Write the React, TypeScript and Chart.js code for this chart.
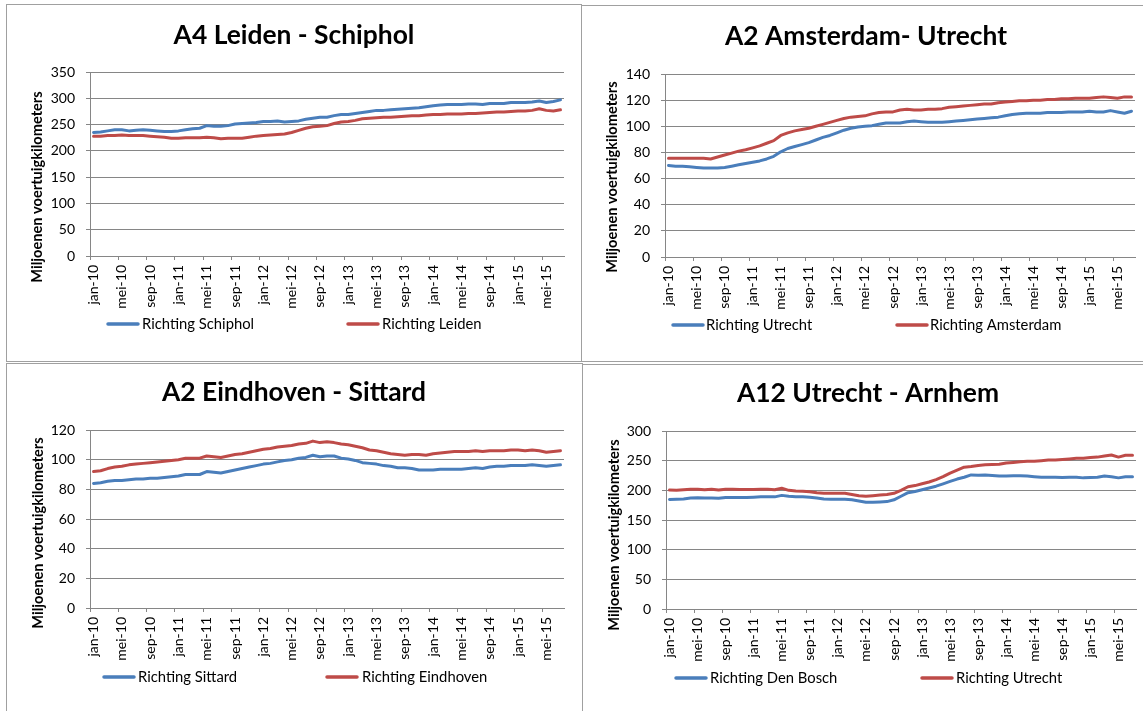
import React, { useEffect, useRef } from 'react';
import { Chart, registerables } from 'chart.js';
Chart.register(...registerables);

// ---------- data ----------
const monthNames = ['jan', 'feb', 'mrt', 'apr', 'mei', 'jun', 'jul', 'aug', 'sep', 'okt', 'nov', 'dec'];
const yearNames = ['10', '11', '12', '13', '14', '15'];
const lastMonthCount = 7; // data runs through jul-15
const categories: string[] = [];
yearNames.forEach((y, yi) => {
  monthNames.forEach((m, mi) => {
    if (yi < yearNames.length - 1 || mi < lastMonthCount) categories.push(`${m}-${y}`);
  });
});

const a4RichtingSchiphol = [
  235, 236, 238, 240, 240, 238, 239, 240, 239, 238, 237, 237,
  238, 240, 242, 243, 248, 247, 247, 248, 251, 252, 253, 254,
  256, 256, 257, 255, 256, 257, 260, 262, 264, 264, 267, 269,
  269, 271, 273, 275, 277, 277, 278, 279, 280, 281, 282, 284,
  286, 287, 288, 288, 288, 289, 289, 288, 290, 290, 290, 292,
  292, 292, 293, 295, 292, 294, 297,
];
const a4RichtingLeiden = [
  228, 228, 229, 229, 230, 229, 229, 229, 228, 227, 226, 224,
  224, 225, 225, 225, 226, 225, 223, 224, 224, 224, 226, 228,
  229, 230, 231, 232, 235, 239, 243, 246, 247, 248, 252, 255,
  256, 258, 261, 262, 263, 264, 264, 265, 266, 267, 267, 268,
  269, 269, 270, 270, 270, 271, 271, 272, 273, 274, 274, 275,
  276, 276, 277, 280, 277, 276, 278,
];
const a2RichtingUtrecht = [
  70, 69.5, 69.5, 69, 68.5, 68, 68, 68, 68.5, 69.5, 70.5, 71.5,
  72.5, 73.5, 75, 77, 80.5, 83, 84.5, 86, 87.5, 89.5, 91.5, 93,
  95, 97, 98.5, 99.5, 100, 100.5, 101.5, 102.5, 102.5, 102.5, 103.5, 104,
  103.5, 103, 103, 103, 103.5, 104, 104.5, 105, 105.5, 106, 106.5, 107,
  108, 109, 109.5, 110, 110, 110, 110.5, 110.5, 110.5, 111, 111, 111,
  111.5, 111, 111, 112, 111, 110, 111.5,
];
const a2RichtingAmsterdam = [
  75.5, 75.5, 75.5, 75.5, 75.5, 75.5, 75, 76.5, 78, 79.5, 81, 82,
  83.5, 85, 87, 89, 93, 95, 96.5, 97.5, 98.5, 100, 101.5, 103,
  104.5, 106, 107, 107.5, 108, 109.5, 110.5, 111, 111, 112.5, 113, 112.5,
  112.5, 113, 113, 113.5, 114.5, 115, 115.5, 116, 116.5, 117, 117, 118,
  118.5, 119, 119.5, 119.5, 120, 120, 120.5, 120.5, 121, 121, 121.5, 121.5,
  121.5, 122, 122.5, 122, 121.5, 122.5, 122.5,
];
const a2RichtingSittard = [
  84, 84.5, 85.5, 86, 86, 86.5, 87, 87, 87.5, 87.5, 88, 88.5,
  89, 90, 90, 90, 92, 91.5, 91, 92, 93, 94, 95, 96,
  97, 97.5, 98.5, 99.5, 100, 101, 101.5, 103, 102, 102.5, 102.5, 101,
  100.5, 99.5, 98, 97.5, 97, 96, 95.5, 94.5, 94.5, 94, 93, 93,
  93, 93.5, 93.5, 93.5, 93.5, 94, 94.5, 94, 95, 95.5, 95.5, 96,
  96, 96, 96.5, 96, 95.5, 96, 96.5,
];
const a2RichtingEindhoven = [
  92, 92.5, 94, 95, 95.5, 96.5, 97, 97.5, 98, 98.5, 99, 99.5,
  100, 101, 101, 101, 102.5, 102, 101.5, 102.5, 103.5, 104, 105, 106,
  107, 107.5, 108.5, 109, 109.5, 110.5, 111, 112.5, 111.5, 112, 111.5, 110.5,
  110, 109, 108, 106.5, 106, 105, 104, 103.5, 103, 103.5, 103.5, 103,
  104, 104.5, 105, 105.5, 105.5, 105.5, 106, 105.5, 106, 106, 106, 106.5,
  106.5, 106, 106.5, 106, 105, 105.5, 106,
];
const a12RichtingDenBosch = [
  184.5, 185, 185.5, 187, 187.5, 187, 187, 186.5, 188, 188, 188, 188,
  188.5, 189, 189, 189, 191.5, 190, 189, 189, 188.5, 187, 185.5, 185,
  185, 185, 184, 182, 180, 180, 180.5, 181, 184, 190, 196, 198,
  201, 204, 207, 211, 215, 219, 222, 226, 225.5, 226, 225, 224,
  224, 224.5, 224.5, 224, 223, 222, 222, 222, 221.5, 222, 222, 221,
  221.5, 222, 224, 223, 221, 223, 223,
];
const a12RichtingUtrecht = [
  200.5, 200, 201, 202, 202, 201, 202, 200.5, 202, 202, 201.5, 201.5,
  201.5, 202, 202, 201, 203.5, 200, 199, 198.5, 197.5, 196, 195, 195,
  195, 195, 193, 191, 190, 191, 192, 193, 195, 200, 206, 208,
  211, 214, 218, 223, 229, 234, 239, 240, 242, 243, 243.5, 244,
  246, 247, 248, 249, 249, 250, 251, 251, 252, 253, 254, 254,
  255.5, 256, 258, 259.5, 256, 259, 259,
];

const yAxisTitle = 'Miljoenen voertuigkilometers';

// ---------- style ----------
const BLUE = '#4A7EBB';
const RED = '#BE4B48';
const GRID = '#868686';
const FONT = 'Lato, "Open Sans", sans-serif';

type Panel = {
  title: string;
  s1: { label: string; data: number[] };
  s2: { label: string; data: number[] };
  max: number;
  step: number;
  canvas: { x: number; y: number; w: number; h: number };
  plot: { l: number; r: number; t: number; b: number };
  titlePos: { x: number; y: number };
  yTitlePos: { x: number; y: number };
  legend: { y: number; items: { line: number; text: number }[] };
};

const panels: Panel[] = [
  {
    title: 'A4 Leiden - Schiphol',
    s1: { label: 'Richting Schiphol', data: a4RichtingSchiphol },
    s2: { label: 'Richting Leiden', data: a4RichtingLeiden },
    max: 350, step: 50,
    canvas: { x: 7, y: 5, w: 574, h: 355 },
    plot: { l: 90, r: 564, t: 72, b: 256 },
    titlePos: { x: 294, y: 44 },
    yTitlePos: { x: 37.5, y: 187 },
    legend: { y: 324, items: [{ line: 107, text: 142 }, { line: 347, text: 382 }] },
  },
  {
    title: 'A2 Amsterdam- Utrecht',
    s1: { label: 'Richting Utrecht', data: a2RichtingUtrecht },
    s2: { label: 'Richting Amsterdam', data: a2RichtingAmsterdam },
    max: 140, step: 20,
    canvas: { x: 582, y: 6, w: 561, h: 355 },
    plot: { l: 665, r: 1135, t: 74, b: 257 },
    titlePos: { x: 866, y: 45 },
    yTitlePos: { x: 612, y: 177 },
    legend: { y: 325, items: [{ line: 672, text: 706 }, { line: 896, text: 930 }] },
  },
  {
    title: 'A2 Eindhoven - Sittard',
    s1: { label: 'Richting Sittard', data: a2RichtingSittard },
    s2: { label: 'Richting Eindhoven', data: a2RichtingEindhoven },
    max: 120, step: 20,
    canvas: { x: 7, y: 364, w: 575, h: 347 },
    plot: { l: 90, r: 564, t: 430, b: 608 },
    titlePos: { x: 294, y: 401 },
    yTitlePos: { x: 38, y: 533 },
    legend: { y: 677, items: [{ line: 103, text: 138 }, { line: 326, text: 362 }] },
  },
  {
    title: 'A12 Utrecht - Arnhem',
    s1: { label: 'Richting Den Bosch', data: a12RichtingDenBosch },
    s2: { label: 'Richting Utrecht', data: a12RichtingUtrecht },
    max: 300, step: 50,
    canvas: { x: 583, y: 365, w: 560, h: 346 },
    plot: { l: 666, r: 1136, t: 431, b: 609 },
    titlePos: { x: 868, y: 402 },
    yTitlePos: { x: 614, y: 535 },
    legend: { y: 678, items: [{ line: 675, text: 710 }, { line: 921, text: 956 }] },
  },
];

function ChartPanel({ p }: { p: Panel }) {
  const ref = useRef<HTMLCanvasElement | null>(null);
  useEffect(() => {
    if (!ref.current) return;
    const c = p.canvas;
    const decor = {
      id: 'decor',
      afterDraw(chart: any) {
        const ctx = chart.ctx as CanvasRenderingContext2D;
        ctx.save();
        ctx.fillStyle = '#000';
        // title
        ctx.font = `bold 26.4px ${FONT}`;
        ctx.textAlign = 'center';
        ctx.textBaseline = 'alphabetic';
        ctx.fillText(p.title, p.titlePos.x - c.x, p.titlePos.y - c.y);
        // y axis title
        ctx.save();
        ctx.translate(p.yTitlePos.x - c.x, p.yTitlePos.y - c.y);
        ctx.rotate(-Math.PI / 2);
        ctx.font = `bold 14.6px ${FONT}`;
        ctx.textAlign = 'center';
        ctx.textBaseline = 'middle';
        ctx.fillText(yAxisTitle, 0, 0);
        ctx.restore();
        // legend
        const ds = chart.data.datasets;
        p.legend.items.forEach((it, i) => {
          const y = p.legend.y - c.y;
          ctx.strokeStyle = ds[i].borderColor;
          ctx.lineWidth = 3.5;
          ctx.lineCap = 'round';
          ctx.beginPath();
          ctx.moveTo(it.line - c.x + 1, y);
          ctx.lineTo(it.line - c.x + 31, y);
          ctx.stroke();
          ctx.fillStyle = '#000';
          ctx.font = `14.8px ${FONT}`;
          ctx.textAlign = 'left';
          ctx.textBaseline = 'middle';
          ctx.fillText(ds[i].label, it.text - c.x, y);
        });
        ctx.restore();
      },
    };
    const chart = new Chart(ref.current, {
      type: 'line',
      data: {
        labels: categories,
        datasets: [
          { label: p.s1.label, data: p.s1.data, borderColor: BLUE, backgroundColor: BLUE, borderWidth: 3, pointRadius: 0, tension: 0, borderJoinStyle: 'round', borderCapStyle: 'round' },
          { label: p.s2.label, data: p.s2.data, borderColor: RED, backgroundColor: RED, borderWidth: 3, pointRadius: 0, tension: 0, borderJoinStyle: 'round', borderCapStyle: 'round' },
        ],
      },
      options: {
        responsive: false,
        animation: false,
        devicePixelRatio: 1,
        events: [],
        layout: {
          padding: { left: 0, top: p.plot.t - c.y, right: c.x + c.w - p.plot.r, bottom: 0 },
        },
        plugins: { legend: { display: false }, title: { display: false }, tooltip: { enabled: false } },
        scales: {
          x: {
            type: 'category',
            offset: true,
            grid: {
              offset: true,
              drawOnChartArea: false,
              drawTicks: true,
              tickLength: 4,
              lineWidth: 1,
              color: (ctx: any) => (ctx.index % 4 === 0 ? GRID : 'rgba(0,0,0,0)'),
            },
            border: { display: true, color: GRID, width: 1 },
            ticks: {
              autoSkip: false,
              maxRotation: 90,
              minRotation: 90,
              padding: 5,
              color: '#000',
              font: { family: FONT, size: 14 },
              callback: (_v: any, i: number) => (i % 4 === 0 ? categories[i] : ''),
            },
            afterFit: (s: any) => {
              s.height = c.y + c.h - p.plot.b;
              s.paddingLeft = 0;
              s.paddingRight = 0;
            },
          },
          y: {
            min: 0,
            max: p.max,
            grid: { color: GRID, lineWidth: 1, drawTicks: true, tickLength: 4 },
            border: { display: true, color: GRID, width: 1 },
            ticks: { stepSize: p.step, padding: 11, color: '#000', font: { family: FONT, size: 14 } },
            afterFit: (s: any) => {
              s.width = p.plot.l - c.x;
              s.paddingTop = 0;
              s.paddingBottom = 0;
            },
          },
        },
      },
      plugins: [decor],
    } as any);
    return () => chart.destroy();
  }, [p]);
  return (
    <canvas
      ref={ref}
      width={p.canvas.w}
      height={p.canvas.h}
      style={{ position: 'absolute', left: p.canvas.x, top: p.canvas.y, width: p.canvas.w, height: p.canvas.h }}
    />
  );
}

const frames = [
  { left: 6, top: 4, width: 576, height: 358 },
  { left: 581, top: 5, width: 600, height: 357 },
  { left: 6, top: 363, width: 577, height: 400 },
  { left: 582, top: 364, width: 600, height: 400 },
];

export default function App() {
  return (
    <div style={{ position: 'fixed', inset: 0, overflow: 'hidden', background: '#fff' }}>
      {frames.map((f, i) => (
        <div
          key={i}
          style={{ position: 'absolute', boxSizing: 'border-box', border: '1px solid #a0a0a0', ...f }}
        />
      ))}
      {panels.map((p, i) => (
        <ChartPanel key={i} p={p} />
      ))}
    </div>
  );
}
